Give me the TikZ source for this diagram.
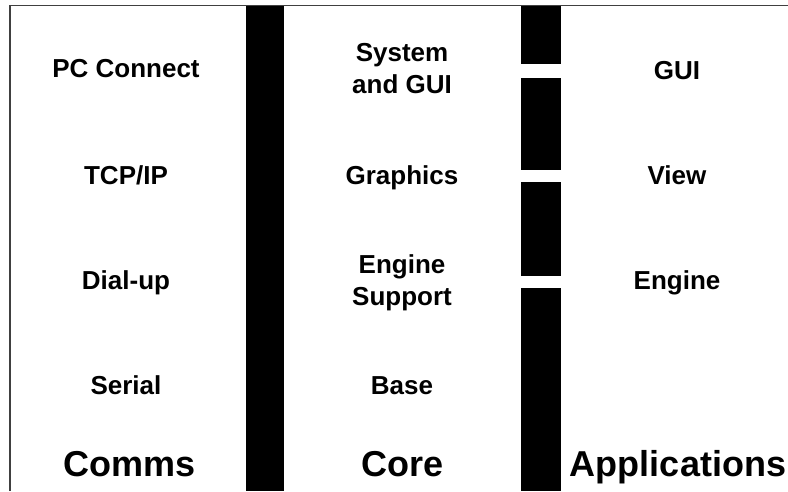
\documentclass[tikz,border=0pt]{standalone}
\usepackage{fontspec}
\setmainfont{Liberation Sans}
\begin{document}
\begin{tikzpicture}[x=1pt,y=-1pt,
  frameline/.style={draw=black!75, line width=1.5pt},
  bar/.style={fill=black},
  item/.style={font=\bfseries\fontsize{26}{32}\selectfont, align=center, inner sep=0pt, anchor=base},
  title/.style={font=\bfseries\fontsize{36}{40}\selectfont, inner sep=0pt, anchor=base}]
  % canvas
  \useasboundingbox (0,0) rectangle (788,491);
  \fill[white] (0,0) rectangle (788,491);

  % frame along the top and the left side
  \coordinate (tl) at (10,5.5);
  \coordinate (tr) at (788,5.5);
  \coordinate (bl) at (10,491);
  \draw[frameline] (bl) -- (tl) -- (tr);

  % solid separator between Comms and Core
  \fill[bar] (246,5.5) rectangle (284,491);

  % broken separator between Core and Applications
  \fill[bar] (521,5.5)   rectangle (561,63.5);
  \fill[bar] (521,77.5)  rectangle (561,169.5);
  \fill[bar] (521,182)   rectangle (561,276);
  \fill[bar] (521,288)   rectangle (561,491);

  % Comms column
  \node[item] (pc)     at (126,77)  {PC Connect};
  \node[item] (tcp)    at (126,184) {TCP/IP};
  \node[item] (dial)   at (126,289) {Dial-up};
  \node[item] (serial) at (126,394) {Serial};

  % Core column (two-line labels sit on their last baseline)
  \node[item] (sys)    at (402,93)  {System\\and GUI};
  \node[item] (gfx)    at (402,184) {Graphics};
  \node[item] (engsup) at (402,305) {Engine\\Support};
  \node[item] (base)   at (402,394) {Base};

  % Applications column
  \node[item] (gui)    at (677,79)  {GUI};
  \node[item] (view)   at (677,184) {View};
  \node[item] (engine) at (677,289) {Engine};

  % column titles
  \node[title] (comms) at (130,476) {Comms};
  \node[title] (core)  at (403,476) {Core};
  \node[title] (apps)  at (678,476) {Applications};
\end{tikzpicture}
\end{document}
